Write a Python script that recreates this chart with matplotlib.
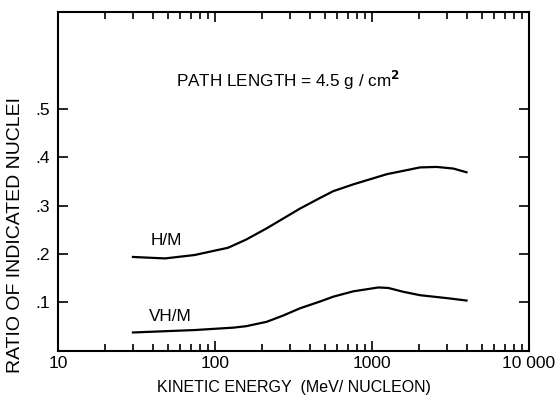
import numpy as np
import matplotlib.pyplot as plt
from matplotlib.ticker import FixedLocator, NullFormatter

plt.rcParams['font.family'] = ['Liberation Sans', 'DejaVu Sans']

# curves
energy_h = [30, 48, 74, 121, 158, 213, 348, 467, 567, 760, 1242, 2024, 2583, 3300, 4000]
ratio_h = [0.194, 0.191, 0.198, 0.213, 0.230, 0.253, 0.294, 0.316, 0.330, 0.344,
           0.365, 0.379, 0.380, 0.3766, 0.369]

energy_vh = [30, 74, 131, 158, 213, 272, 348, 467, 567, 760, 1096, 1270, 1585, 2024, 2990, 4000]
ratio_vh = [0.038, 0.043, 0.048, 0.051, 0.060, 0.073, 0.088, 0.102, 0.112, 0.123,
            0.131, 0.130, 0.122, 0.115, 0.109, 0.104]

xticks = [10, 100, 1000, 10000]
xticklabels = ['10', '100', '1000', '10 000']
yticks = [0.1, 0.2, 0.3, 0.4, 0.5]
yticklabels = ['.1', '.2', '.3', '.4', '.5']

fig = plt.figure(figsize=(5.58, 4.01), dpi=100)
ax = fig.add_axes([0.104, 0.125, 0.844, 0.845])

ax.plot(energy_h, ratio_h, color='black', lw=1.6)
ax.plot(energy_vh, ratio_vh, color='black', lw=1.6)

ax.set_xscale('log')
ax.set_xlim(10, 10000)
ax.set_ylim(0, 0.7)

ax.set_xticks(xticks)
ax.set_xticklabels(xticklabels)
minors = [m * 10 ** d for d in range(1, 4) for m in range(2, 10)]
ax.xaxis.set_minor_locator(FixedLocator(minors))
ax.xaxis.set_minor_formatter(NullFormatter())
ax.set_yticks(yticks)
ax.set_yticklabels(yticklabels)

ax.tick_params(axis='both', which='major', direction='in', top=True, right=True,
               length=7, width=1.2, labelsize=12.5)
ax.tick_params(axis='x', which='major', pad=4)
ax.tick_params(axis='y', which='major', pad=6)
ax.tick_params(axis='x', which='minor', direction='in', top=True, length=5, width=1.2)
ax.tick_params(axis='y', which='minor', left=False, right=False)
for s in ax.spines.values():
    s.set_linewidth(1.5)

ax.text(290, 0.559, 'PATH LENGTH = 4.5 g / cm$^{\\mathbf{2}}$', ha='center', va='center',
        fontsize=12.3)
ax.text(39, 0.229, 'H/M', ha='left', va='center', fontsize=12.3)
ax.text(38, 0.071, 'VH/M', ha='left', va='center', fontsize=12.3)

ax.set_xlabel('KINETIC ENERGY  (MeV/ NUCLEON)', fontsize=11.5, labelpad=6)
ax.set_ylabel('RATIO OF INDICATED NUCLEI', fontsize=14)
ax.yaxis.set_label_coords(-0.072, 0.342)

fig.savefig('out.png', dpi=100)
